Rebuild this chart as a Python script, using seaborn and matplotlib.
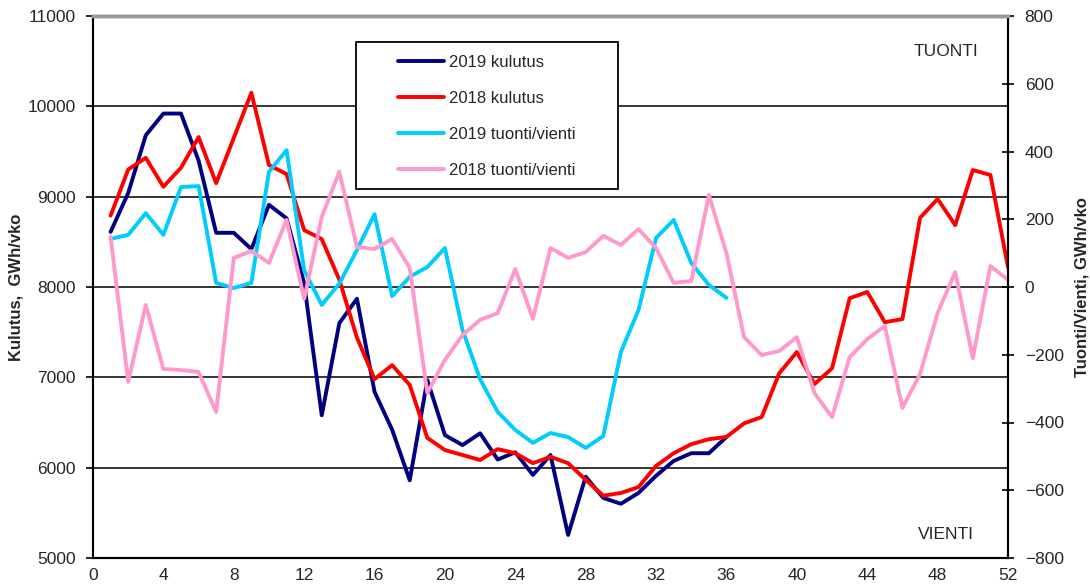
import numpy as np
import pandas as pd
import matplotlib
matplotlib.use('Agg')
import matplotlib.pyplot as plt
from matplotlib.patches import Rectangle
import seaborn as sns

# weekly consumption (GWh/vko)
weeks_2019 = list(range(1, 37))
kulutus_2019 = [8610, 9040, 9680, 9920, 9920, 9400, 8600, 8600, 8420, 8910,
                8760, 8040, 6580, 7600, 7870, 6840, 6420, 5860, 6970, 6360,
                6250, 6380, 6090, 6170, 5920, 6140, 5255, 5900, 5665, 5600,
                5720, 5910, 6075, 6160, 6160, 6340]
weeks_2018 = list(range(1, 53))
kulutus_2018 = [8790, 9300, 9430, 9110, 9320, 9660, 9150, 9650, 10150, 9350,
                9250, 8630, 8530, 8080, 7440, 6980, 7135, 6915, 6330, 6195,
                6140, 6085, 6205, 6160, 6050, 6120, 6050, 5865, 5690, 5720,
                5785, 6020, 6160, 6260, 6315, 6340, 6490, 6560, 7045, 7280,
                6925, 7100, 7875, 7945, 7610, 7645, 8765, 8975, 8685, 9295,
                9240, 8220]

# import(+)/export(-) (GWh/vko)
tuonti_2019 = [142, 154, 218, 154, 295, 298, 12, -3, 12, 340,
               404, 50, -53, 10, 109, 215, -27, 30, 59, 115,
               -127, -272, -369, -422, -460, -431, -443, -475, -440, -192,
               -68, 145, 198, 71, 6, -32]
tuonti_2018 = [148, -280, -53, -242, -245, -251, -369, 86, 106, 71,
               198, -35, 207, 340, 118, 112, 142, 56, -313, -215,
               -142, -97, -77, 53, -94, 115, 86, 103, 151, 124,
               171, 115, 12, 18, 272, 100, -148, -201, -189, -148,
               -313, -384, -207, -154, -115, -357, -257, -77, 44, -210,
               62, 21]

df19 = pd.DataFrame({'vko': weeks_2019, 'kulutus': kulutus_2019, 'tuonti': tuonti_2019})
df18 = pd.DataFrame({'vko': weeks_2018, 'kulutus': kulutus_2018, 'tuonti': tuonti_2018})

sns.set_style('white')
plt.rcParams['font.family'] = ['Liberation Sans', 'DejaVu Sans']

fs = 12.5
fig = plt.figure(figsize=(10.9, 5.87), dpi=100)
ax = fig.add_axes([93 / 1090, 1 - 558 / 587, 915 / 1090, 542 / 587])
ax2 = ax.twinx()

lw = 2.8
sns.lineplot(data=df19, x='vko', y='kulutus', ax=ax, color='#000080', lw=lw, label='2019 kulutus', legend=False)
sns.lineplot(data=df18, x='vko', y='kulutus', ax=ax, color='#FF0000', lw=lw, label='2018 kulutus', legend=False)
sns.lineplot(data=df19, x='vko', y='tuonti', ax=ax2, color='#00CCFF', lw=lw, label='2019 tuonti/vienti', legend=False)
sns.lineplot(data=df18, x='vko', y='tuonti', ax=ax2, color='#FF99CC', lw=lw, label='2018 tuonti/vienti', legend=False)

ax.set_xlim(0, 52)
ax.set_xticks(range(0, 53, 4))
ax.set_ylim(5000, 11000)
ax.set_yticks(range(5000, 11001, 1000))
ax2.set_ylim(-800, 800)
ax2.set_yticks(range(-800, 801, 200))

for y in range(6000, 11000, 1000):
    ax.axhline(y, color='black', lw=1.1, zorder=0)

ax.set_xlabel('')
ax.set_ylabel('Kulutus,  GWh/vko', fontsize=12, fontweight='bold', labelpad=3)
ax2.set_ylabel('Tuonti/Vienti, GWh/vko', fontsize=12, fontweight='bold', labelpad=8)

ax.tick_params(axis='y', labelsize=fs, direction='out', length=5, width=1.2, color='black', pad=7.5)
ax.tick_params(axis='x', labelsize=fs, direction='out', length=5, width=1.2, color='black', pad=2.5)
ax2.tick_params(axis='y', labelsize=fs, direction='inout', length=8, width=1.2, color='black', pad=8)

for a in (ax, ax2):
    for side in ('left', 'right', 'bottom'):
        a.spines[side].set_color('black')
        a.spines[side].set_linewidth(1.5)
    a.spines['top'].set_color('#999999')
    a.spines['top'].set_linewidth(2.5)

ax2.text(48.5, 695, 'TUONTI', ha='center', va='center', fontsize=fs)
ax2.text(48.5, -730, 'VIENTI', ha='center', va='center', fontsize=fs)

# legend box
box = Rectangle((0.2874, 0.6808), 0.2864, 0.2712, transform=ax2.transAxes,
                facecolor='white', edgecolor='black', lw=1.3, zorder=9)
ax2.add_patch(box)

h1, l1 = ax.get_legend_handles_labels()
h2, l2 = ax2.get_legend_handles_labels()
leg = ax2.legend(h1 + h2, l1 + l2, loc='upper left', bbox_to_anchor=(0.3333, 0.9285),
                 fontsize=12, frameon=False,
                 labelspacing=1.27, handlelength=2.76, handletextpad=0.3,
                 borderpad=0, borderaxespad=0)
leg.set_zorder(10)

fig.savefig('out.png', dpi=100)
